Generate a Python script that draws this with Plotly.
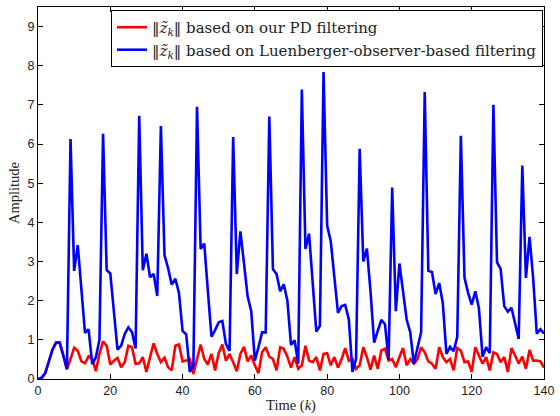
import plotly.graph_objects as go

k = list(range(141))

pd_filter = [0, 0.03, 0.15, 0.45, 0.75, 0.93, 0.93, 0.6, 0.25,
             0.51, 0.8, 0.72, 0.45, 0.4, 0.58, 0.51, 0.2, 0.64, 0.96,
             0.85, 0.37, 0.47, 0.54, 0.3, 0.43, 0.85, 0.81, 0.39, 0.4,
             0.56, 0.18, 0.56, 0.91, 0.64, 0.43, 0.54, 0.3, 0.22, 0.85,
             0.88, 0.45, 0.47, 0.51, 0.13, 0.51, 0.88, 0.51, 0.37, 0.64,
             0.22, 0.66, 0.88, 0.47, 0.64, 0.43, 0.2, 0.64, 0.82, 0.45,
             0.6, 0.35, 0.15, 0.68, 0.81, 0.57, 0.51, 0.22, 0.81, 0.77,
             0.57, 0.29, 0.56, 0.26, 0.35, 0.85, 0.47, 0.43, 0.56, 0.22,
             0.64, 0.66, 0.35, 0.56, 0.29, 0.51, 0.79, 0.47, 0.51, 0.26,
             0.35, 0.81, 0.56, 0.24, 0.6, 0.26, 0.73, 0.77, 0.47, 0.51,
             0.3, 0.56, 0.79, 0.35, 0.51, 0.39, 0.51, 0.81, 0.68, 0.45,
             0.39, 0.26, 0.81, 0.56, 0.43, 0.51, 0.22, 0.79, 0.72, 0.43,
             0.45, 0.18, 0.81, 0.6, 0.39, 0.56, 0.22, 0.68, 0.64, 0.43,
             0.56, 0.18, 0.79, 0.6, 0.4, 0.57, 0.26, 0.74, 0.47, 0.47,
             0.45, 0.29]

luenberger = [0, 0.03, 0.15, 0.45, 0.75, 0.93, 0.93, 0.6, 0.25,
              6.13, 2.76, 3.42, 2.3, 1.18, 1.27, 0.38, 0.55, 1.0, 6.26,
              2.78, 2.7, 1.7, 0.75, 0.85, 1.15, 1.32, 1.2, 0.78, 6.72,
              2.78, 3.2, 2.6, 2.68, 2.12, 6.46, 3.16, 2.83, 2.41, 2.56,
              2.2, 1.23, 1.14, 0.18, 0.35, 6.95, 3.32, 3.46, 2.25, 1.08,
              1.25, 1.45, 1.48, 0.89, 0.72, 6.18, 2.68, 3.77, 2.95, 2.11,
              1.73, 0.47, 0.81, 1.19, 1.19, 6.7, 2.81, 2.68, 2.24, 2.42,
              2.0, 0.87, 0.99, 0.39, 7.39, 3.32, 3.71, 2.4, 1.21, 1.36,
              7.84, 3.92, 3.52, 2.6, 1.69, 1.86, 1.89, 1.52, 0.18, 0.51,
              5.88, 3.0, 3.33, 2.24, 0.93, 1.23, 1.51, 1.4, 0.49, 4.89,
              1.73, 2.95, 2.24, 1.52, 1.19, 0.39, 0.8, 1.19, 7.33, 2.76,
              2.73, 2.17, 2.45, 1.94, 0.64, 0.82, 0.71, 1.08, 6.21, 2.59,
              2.2, 1.9, 2.24, 1.8, 0.57, 0.81, 0.66, 7.0, 2.98, 2.81,
              1.86, 1.72, 1.82, 1.4, 1.02, 5.45, 2.58, 3.63, 2.58, 1.16,
              1.27, 1.16]

x_ticks = [0, 20, 40, 60, 80, 100, 120, 140]
y_ticks = [0, 1, 2, 3, 4, 5, 6, 7, 8, 9]

names = ["‖<i>z̃</i><sub><i>k</i></sub>‖ based on our PD filtering",
         "‖<i>z̃</i><sub><i>k</i></sub>‖ based on Luenberger-observer-based filtering"]

fig = go.Figure()
fig.add_trace(go.Scatter(x=k, y=pd_filter, mode="lines", name=names[0],
                         line=dict(color="#ff0000", width=2.6)))
fig.add_trace(go.Scatter(x=k, y=luenberger, mode="lines", name=names[1],
                         line=dict(color="#0000ff", width=2.6)))

axis_common = dict(showline=True, linecolor="black", linewidth=1, mirror="ticks",
                   ticks="inside", ticklen=5, tickcolor="black", showgrid=False,
                   zeroline=False, ticklabeloverflow="allow",
                   tickfont=dict(family="Liberation Sans, Arial", size=12.5, color="#222"))

fig.update_xaxes(range=[0, 140], tickvals=x_ticks,
                 title=dict(text="Time (<i>k</i>)", standoff=2,
                            font=dict(family="Liberation Serif, Times New Roman", size=14.5, color="#222")),
                 **axis_common)
fig.update_yaxes(range=[0, 9.5], tickvals=y_ticks,
                 title=dict(text="Amplitude", standoff=4,
                            font=dict(family="Liberation Serif, Times New Roman", size=14.5, color="#222")),
                 **axis_common)

fig.update_layout(
    width=560, height=416,
    margin=dict(l=38, r=10, t=6, b=34),
    paper_bgcolor="white", plot_bgcolor="white",
    showlegend=True,
    legend=dict(x=0.998, xanchor="right", y=0.992, yanchor="top",
                bgcolor="white", bordercolor="black", borderwidth=1,
                font=dict(family="DejaVu Serif", size=15, color="#222"),
                tracegroupgap=0, itemwidth=30),
)

fig.write_html("out.html")
